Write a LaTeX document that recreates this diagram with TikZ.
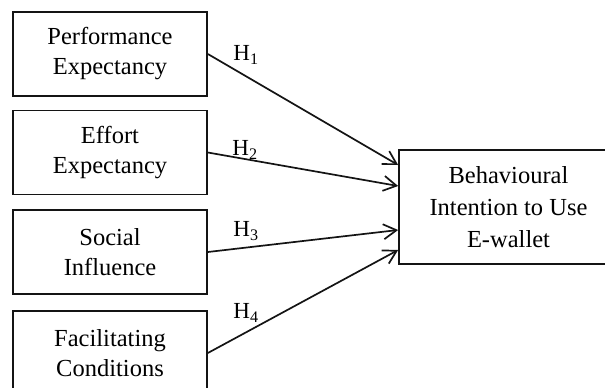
\documentclass[tikz,border=0pt]{standalone}
\usepackage{fontspec}
\setmainfont{Liberation Serif}
\usetikzlibrary{arrows.meta}
\definecolor{ink}{RGB}{20,20,20}

\begin{document}
\begin{tikzpicture}[x=1pt, y=-1pt,
                    construct/.style={draw=ink, line width=1.7pt, align=center, inner sep=0pt,
                                      font=\fontsize{24.5}{30}\selectfont,
                                      minimum width=194pt, minimum height=84pt},
                    hyp/.style={font=\fontsize{23}{26}\selectfont, inner sep=0pt},
                    path/.style={draw=ink, line width=1.7pt},
                    >={Straight Barb[length=13pt,width=15pt,line width=1.7pt]}]
  \useasboundingbox (0,0) rectangle (605,388);

  % the four predictors on the left
  \node[construct] (pe) at (110,54)    {Performance\\Expectancy};
  \node[construct] (ee) at (110,152.5) {Effort\\Expectancy};
  \node[construct] (si) at (110,252)   {Social\\Influence};
  \node[construct] (fc) at (110,353)   {Facilitating\\Conditions};

  % outcome, cut off by the right edge
  \node[construct, minimum width=219pt, minimum height=114pt,
        font=\fontsize{24.5}{32}\selectfont] (bi) at (508.5,207)
    {Behavioural\\Intention to Use\\E-wallet};

  % hypothesised paths
  \draw[path, ->] (pe.east) -- ([yshift=42pt]bi.west);
  \draw[path, ->] (ee.east) -- ([yshift=21pt]bi.west);
  \draw[path, ->] (si.east) -- ([yshift=-23pt]bi.west);
  \draw[path, ->] (fc.east) -- ([yshift=-43pt]bi.west);

  \node[hyp] (h1) at (246,55)  {H\textsubscript{1}};
  \node[hyp] (h2) at (245,150) {H\textsubscript{2}};
  \node[hyp] (h3) at (246,231) {H\textsubscript{3}};
  \node[hyp] (h4) at (246,313) {H\textsubscript{4}};
\end{tikzpicture}
\end{document}
